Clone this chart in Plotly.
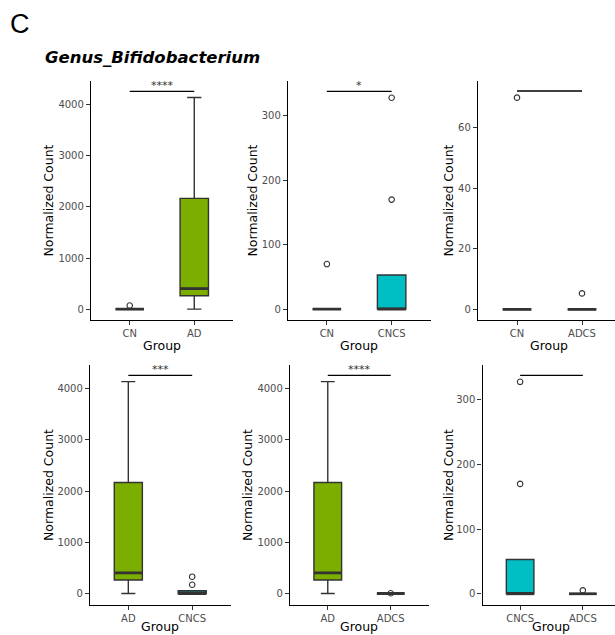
import plotly.graph_objects as go

W, H = 615, 635

# ---------------- data ----------------
group_colors = {"CN": "#F8766D", "AD": "#7CAE00", "CNCS": "#00BFC4", "ADCS": "#C77CFF"}
q1_vals = {"CN": 0, "AD": 262, "CNCS": 0, "ADCS": 0}
median_vals = {"CN": 0, "AD": 402, "CNCS": 0, "ADCS": 0}
q3_vals = {"CN": 0, "AD": 2166, "CNCS": 53, "ADCS": 0}
lower_vals = {"CN": 0, "AD": 0, "CNCS": 0, "ADCS": 0}
upper_vals = {"CN": 0, "AD": 4137, "CNCS": 53, "ADCS": 0}
outlier_vals = {"CN": [70], "AD": [], "CNCS": [170, 328], "ADCS": [5.3]}

comparisons = [("CN", "AD"), ("CN", "CNCS"), ("CN", "ADCS"),
               ("AD", "CNCS"), ("AD", "ADCS"), ("CNCS", "ADCS")]
signif_labels = ["****", "*", "", "***", "****", ""]
signif_y = [4258, 338, 72.2, 4258, 4258, 338]
y_ranges = [[-212, 4460], [-16.8, 354], [-3.5, 75.5],
            [-225, 4462], [-225, 4462], [-17.4, 354]]
y_tickvals = [[0, 1000, 2000, 3000, 4000], [0, 100, 200, 300], [0, 20, 40, 60],
              [0, 1000, 2000, 3000, 4000], [0, 1000, 2000, 3000, 4000], [0, 100, 200, 300]]
title_text = "Genus_Bifidobacterium"
panel_letter = "C"
y_title = "Normalized Count"
x_title = "Group"

# ---------------- layout (pixels) ----------------
# x0, x1, y0(top), y1(bottom), x-range right end
panels = [
    (91, 233, 81, 320, 2.6),
    (288, 430.5, 81, 320, 2.6),
    (478, 615, 81, 320, 0.4 + 137 / 65),
    (90, 230.5, 365, 605, 2.6),
    (290, 428.5, 365, 605, 2.6),
    (482.5, 615, 365, 605, 0.4 + 132.5 / 62.7),
]
ytitle_x = [48, 252, 448, 48, 247, 448]
xtitle_cx = [162, 359, 549, 160, 359, 551]
xtitle_y = [345, 345, 345, 626, 626, 626]

BOX_W = 0.44
LINE_C = "#333333"

fig = go.Figure()
layout = dict(
    width=W, height=H, margin=dict(l=0, r=0, t=0, b=0),
    paper_bgcolor="white", plot_bgcolor="white", showlegend=False,
    font=dict(family="DejaVu Sans", color="#000000"),
)
annotations = []

for i, ((g1, g2), (x0, x1, ytop, ybot, xr)) in enumerate(zip(comparisons, panels)):
    n = i + 1
    xa = "x" if n == 1 else f"x{n}"
    ya = "y" if n == 1 else f"y{n}"
    layout["xaxis" if n == 1 else f"xaxis{n}"] = dict(
        domain=[x0 / W, x1 / W], anchor=ya, range=[0.4, xr],
        tickvals=[1, 2], ticktext=[g1, g2], showgrid=False, zeroline=False,
        showline=True, linecolor="#000000", linewidth=1.3,
        ticks="outside", ticklen=4, tickcolor=LINE_C, tickwidth=1.1,
        tickfont=dict(size=10, color="#4D4D4D"), fixedrange=True,
    )
    layout["yaxis" if n == 1 else f"yaxis{n}"] = dict(
        domain=[1 - ybot / H, 1 - ytop / H], anchor=xa, range=y_ranges[i],
        tickvals=y_tickvals[i], showgrid=False, zeroline=False,
        showline=True, linecolor="#000000", linewidth=1.3,
        ticks="outside", ticklen=4, tickcolor=LINE_C, tickwidth=1.1,
        tickfont=dict(size=10, color="#4D4D4D"), fixedrange=True,
    )
    for pos, g in ((1, g1), (2, g2)):
        fig.add_trace(go.Box(
            x=[pos], q1=[q1_vals[g]], median=[median_vals[g]], q3=[q3_vals[g]],
            lowerfence=[lower_vals[g]], upperfence=[upper_vals[g]],
            width=BOX_W, whiskerwidth=0.5, boxpoints=False,
            fillcolor=group_colors[g], line=dict(color=LINE_C, width=1.4),
            xaxis=xa, yaxis=ya, hoverinfo="skip",
        ))
        # thicker median line (ggplot style)
        fig.add_trace(go.Scatter(
            x=[pos - BOX_W / 2, pos + BOX_W / 2], y=[median_vals[g]] * 2,
            mode="lines", line=dict(color=LINE_C, width=2.8),
            xaxis=xa, yaxis=ya, hoverinfo="skip",
        ))
        if outlier_vals[g]:
            fig.add_trace(go.Scatter(
                x=[pos] * len(outlier_vals[g]), y=outlier_vals[g], mode="markers",
                marker=dict(symbol="circle-open", size=5.5, color=LINE_C,
                            line=dict(width=1.1, color=LINE_C)),
                xaxis=xa, yaxis=ya, hoverinfo="skip",
            ))
    # significance bar
    fig.add_trace(go.Scatter(
        x=[1, 2], y=[signif_y[i]] * 2, mode="lines",
        line=dict(color="#000000", width=1.3), xaxis=xa, yaxis=ya, hoverinfo="skip",
    ))
    if signif_labels[i]:
        annotations.append(dict(
            x=1.5, y=signif_y[i], xref=xa, yref=ya, text=signif_labels[i],
            showarrow=False, yanchor="bottom", yshift=-3,
            font=dict(size=11, color="#333333"),
        ))
    # axis titles
    annotations.append(dict(
        x=ytitle_x[i] / W, y=1 - (ytop + ybot) / 2 / H, xref="paper", yref="paper",
        text=y_title, textangle=-90, showarrow=False, xanchor="center", yanchor="middle",
        font=dict(size=12.5, color="#000000"),
    ))
    annotations.append(dict(
        x=xtitle_cx[i] / W, y=1 - xtitle_y[i] / H, xref="paper", yref="paper",
        text=x_title, showarrow=False, xanchor="center", yanchor="middle",
        font=dict(size=12.5, color="#000000"),
    ))

annotations.append(dict(
    x=43 / W, y=1 - 58 / H, xref="paper", yref="paper", text=f"<b><i>{title_text}</i></b>",
    showarrow=False, xanchor="left", yanchor="middle",
    font=dict(size=16.5, color="#000000", family="DejaVu Sans"),
))
annotations.append(dict(
    x=8 / W, y=1 - 24 / H, xref="paper", yref="paper", text=panel_letter,
    showarrow=False, xanchor="left", yanchor="middle",
    font=dict(size=27, color="#000000", family="Liberation Sans"),
))
layout["annotations"] = annotations
fig.update_layout(**layout)
fig.write_html(
    "out.html",
    config={"displayModeBar": False},
    post_script="document.body.style.margin='0';document.body.style.overflow='hidden';",
)
